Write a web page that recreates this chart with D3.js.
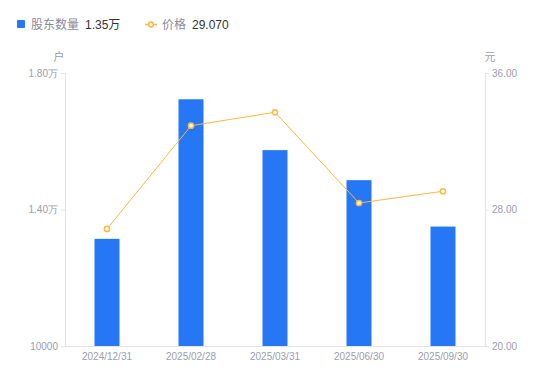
<!DOCTYPE html>
<html>
<head>
<meta charset="utf-8">
<script src="https://cdn.jsdelivr.net/npm/d3@7"></script>
<style>
  body { margin: 0; background: #fff; }
  svg { font-family: Arial, "Liberation Sans", "Noto Sans CJK SC", sans-serif; }
</style>
</head>
<body>
<div id="chart"></div>
<script>
const width = 550;
const height = 381;

// data
const dates = ["2024/12/31", "2025/02/28", "2025/03/31", "2025/06/30", "2025/09/30"];
const holders = [13140, 17230, 15740, 14860, 13500];   // 股东数量 (户)
const prices = [26.86, 32.91, 33.70, 28.38, 29.07];    // 价格 (元)
const leftTicks = [10000, 14000, 18000];
const rightTicks = [20, 28, 36];

const margin = { top: 73, right: 65, bottom: 35, left: 65 };

const svg = d3.select("#chart")
    .append("svg")
    .attr("width", width)
    .attr("height", height);

const x = d3.scaleBand()
    .domain(dates)
    .range([margin.left, width - margin.right]);

const yLeft = d3.scaleLinear()
    .domain([10000, 18000])
    .range([height - margin.bottom, margin.top]);

const yRight = d3.scaleLinear()
    .domain([20, 36])
    .range([height - margin.bottom, margin.top]);

const fmtLeft = v => v === 10000 ? "10000" : (v / 10000).toFixed(2) + "万";

// axes
const axisColor = "#e3e3e8";
const labelColor = "#9c9cab";

const gLeft = svg.append("g")
    .attr("transform", `translate(${margin.left},0)`)
    .call(d3.axisLeft(yLeft).tickValues(leftTicks).tickFormat(fmtLeft).tickSize(4).tickPadding(3));

const gRight = svg.append("g")
    .attr("transform", `translate(${width - margin.right},0)`)
    .call(d3.axisRight(yRight).tickValues(rightTicks).tickFormat(d3.format(".2f")).tickSize(4).tickPadding(3));

const gBottom = svg.append("g")
    .attr("transform", `translate(0,${height - margin.bottom})`)
    .call(d3.axisBottom(x).tickSize(0).tickPadding(7));

[gLeft, gRight, gBottom].forEach(g => {
    g.select(".domain").attr("stroke", axisColor);
    g.selectAll(".tick line").attr("stroke", axisColor);
    g.selectAll(".tick text").attr("fill", labelColor).attr("font-size", 10);
});

// unit labels
svg.append("text")
    .attr("x", 59).attr("y", 61)
    .attr("text-anchor", "middle")
    .attr("fill", labelColor)
    .attr("font-size", 11)
    .text("户");
svg.append("text")
    .attr("x", 490).attr("y", 61)
    .attr("text-anchor", "middle")
    .attr("fill", labelColor)
    .attr("font-size", 11)
    .text("元");

// bars
const barW = 25;
svg.append("g")
    .selectAll("rect")
    .data(holders)
    .join("rect")
    .attr("x", (d, i) => x(dates[i]) + x.bandwidth() / 2 - barW / 2)
    .attr("y", d => yLeft(d))
    .attr("width", barW)
    .attr("height", d => yLeft(10000) - yLeft(d))
    .attr("fill", "#2577f6");

// price line
const lineColor = "#fdb73f";
const line = d3.line()
    .x((d, i) => x(dates[i]) + x.bandwidth() / 2)
    .y(d => yRight(d));

svg.append("path")
    .datum(prices)
    .attr("d", line)
    .attr("fill", "none")
    .attr("stroke", lineColor)
    .attr("stroke-width", 1);

svg.append("g")
    .selectAll("circle")
    .data(prices)
    .join("circle")
    .attr("cx", (d, i) => x(dates[i]) + x.bandwidth() / 2)
    .attr("cy", d => yRight(d))
    .attr("r", 2.6)
    .attr("fill", "#fff")
    .attr("stroke", lineColor)
    .attr("stroke-width", 1.5);

// legend
const legend = svg.append("g").attr("font-size", 12);
legend.append("rect")
    .attr("x", 17).attr("y", 20)
    .attr("width", 8).attr("height", 8)
    .attr("rx", 1)
    .attr("fill", "#2577f6");
legend.append("text")
    .attr("x", 31).attr("y", 29)
    .attr("fill", "#8a8a99")
    .text("股东数量");
legend.append("text")
    .attr("x", 85).attr("y", 29)
    .attr("fill", "#333")
    .text("1.35万");

legend.append("line")
    .attr("x1", 145).attr("x2", 157)
    .attr("y1", 24.5).attr("y2", 24.5)
    .attr("stroke", lineColor)
    .attr("stroke-width", 1.5);
legend.append("circle")
    .attr("cx", 151).attr("cy", 24.5)
    .attr("r", 2.4)
    .attr("fill", "#fff")
    .attr("stroke", lineColor)
    .attr("stroke-width", 1.5);
legend.append("text")
    .attr("x", 162).attr("y", 29)
    .attr("fill", "#8a8a99")
    .text("价格");
legend.append("text")
    .attr("x", 192).attr("y", 29)
    .attr("fill", "#333")
    .text("29.070");
</script>
</body>
</html>
